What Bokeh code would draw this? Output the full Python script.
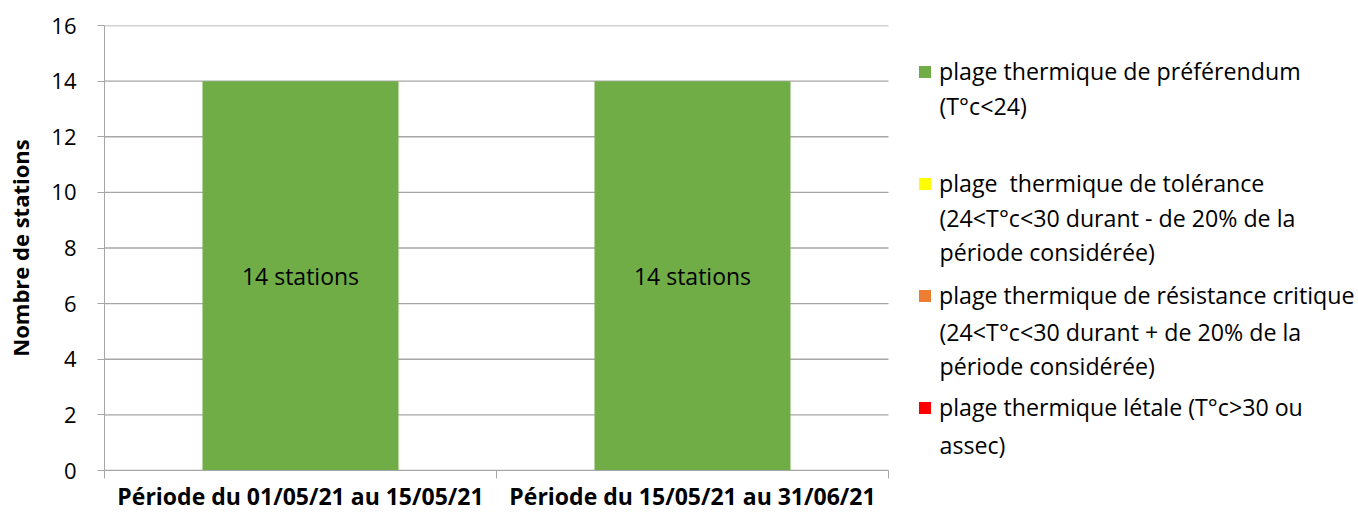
from bokeh.plotting import figure
from bokeh.models import ColumnDataSource, FixedTicker, Legend, LegendItem, Range1d, LabelSet, Label
from bokeh.core.properties import value
from bokeh.embed import file_html
from bokeh.resources import INLINE

periods = ["Période du 01/05/21 au 15/05/21", "Période du 15/05/21 au 31/06/21"]
preferendum = [14, 14]
tolerance = [0, 0]
resistance = [0, 0]
letale = [0, 0]
bar_labels = ["14 stations", "14 stations"]
series = ["preferendum", "tolerance", "resistance", "letale"]
series_lines = [
    ["plage thermique de préférendum", "(T°c<24)"],
    ["plage  thermique de tolérance", "(24<T°c<30 durant - de 20% de la", "période considérée)"],
    ["plage thermique de résistance critique", "(24<T°c<30 durant + de 20% de la", "période considérée)"],
    ["plage thermique létale (T°c>30 ou", "assec)"],
]
colors = ["#70AD47", "#FFFF00", "#ED7D31", "#FF0000"]
y_ticks = [0, 2, 4, 6, 8, 10, 12, 14, 16]

n = len(periods)
xpos = [i + 0.5 for i in range(n)]
src = ColumnDataSource(dict(x=xpos, preferendum=preferendum, tolerance=tolerance,
                            resistance=resistance, letale=letale,
                            label=bar_labels, ly=[v / 2 for v in preferendum]))

FONT = "Open Sans"
GRAY = "#a6a6a6"
W, H = 1358, 515
LEFT, TOP, BOTTOM = 104, 25, 45
FRAME_W = W - LEFT
FRAME_H = H - TOP - BOTTOM
PLOT_W = 784            # width in px of the category area
x_end = n * FRAME_W / PLOT_W

p = figure(width=W, height=H, output_backend="svg", toolbar_location=None,
           x_range=Range1d(0, x_end), y_range=Range1d(0, 16),
           min_border_left=LEFT, min_border_top=TOP, min_border_bottom=BOTTOM, min_border_right=0)
p.outline_line_color = None
p.background_fill_color = "white"
p.xgrid.grid_line_color = None
p.ygrid.grid_line_color = None

# horizontal gridlines limited to the category area
p.segment(x0=[0] * len(y_ticks), x1=[n] * len(y_ticks), y0=y_ticks, y1=y_ticks,
          line_color=GRAY, line_width=1.3)

renderers = p.vbar_stack(series, x="x", width=0.5, source=src, color=colors, line_color=None)

p.add_layout(LabelSet(x="x", y="ly", text="label", source=src, text_align="center",
                      text_baseline="middle", text_font=value(FONT), text_font_size="23px",
                      text_color="#000000"))

# axes
p.xaxis.bounds = (0, n)
p.xaxis.ticker = FixedTicker(ticks=xpos, minor_ticks=list(range(n + 1)))
p.xaxis.major_label_overrides = {x: lab for x, lab in zip(xpos, periods)}
p.xaxis.major_tick_line_color = None
p.xaxis.major_tick_out = 0
p.xaxis.major_tick_in = 0
p.xaxis.minor_tick_out = 8
p.xaxis.minor_tick_in = 0
p.xaxis.minor_tick_line_color = GRAY
p.xaxis.axis_line_color = GRAY
p.xaxis.major_label_text_font = FONT
p.xaxis.major_label_text_font_style = "bold"
p.xaxis.major_label_text_font_size = "23px"
p.xaxis.major_label_text_color = "#000000"
p.xaxis.major_label_standoff = 1

p.yaxis.ticker = FixedTicker(ticks=y_ticks, minor_ticks=[])
p.yaxis.major_tick_out = 7
p.yaxis.major_tick_in = 0
p.yaxis.major_tick_line_color = GRAY
p.yaxis.axis_line_color = GRAY
p.yaxis.major_label_text_font = FONT
p.yaxis.major_label_text_font_size = "22px"
p.yaxis.major_label_text_color = "#000000"
p.yaxis.major_label_standoff = 21
p.yaxis.axis_label = "Nombre de stations"
p.yaxis.axis_label_text_font = FONT
p.yaxis.axis_label_text_font_style = "bold"
p.yaxis.axis_label_text_font_size = "22px"
p.yaxis.axis_label_text_color = "#000000"
p.yaxis.axis_label_standoff = 13

# legend: first line of each entry in the legend, the rest as labels
LEG_X = 813                      # glyph left, px from frame left
FIRST_Y = [46, 158, 272, 385]    # first-line centre, px below frame top
LINE_H = 34
ITEM_H = 34
FS = "23.2px"
spacing = FIRST_Y[1] - FIRST_Y[0] - ITEM_H
legend = Legend(items=[LegendItem(label=lines[0], renderers=[r]) for lines, r in zip(series_lines, renderers)],
                border_line_color=None, background_fill_alpha=0,
                label_text_font=FONT, label_text_font_size=FS,
                label_text_color="#000000",
                glyph_width=15, glyph_height=15, label_height=ITEM_H,
                spacing=spacing, padding=0, margin=0, label_standoff=7)
leg_h = 4 * ITEM_H + 3 * spacing
leg_top = FRAME_H - (FIRST_Y[0] - ITEM_H / 2)
legend.location = (LEG_X, leg_top - leg_h)
p.add_layout(legend, "center")

for lines, fy in zip(series_lines, FIRST_Y):
    for k, line in enumerate(lines[1:], start=1):
        p.add_layout(Label(x=LEG_X + 22, y=FRAME_H - (fy + k * LINE_H), x_units="screen", y_units="screen",
                           text=line, text_font=FONT, text_font_size=FS, text_color="#000000",
                           text_baseline="middle", text_align="left"))

open("out.html", "w").write(file_html(p, INLINE))
